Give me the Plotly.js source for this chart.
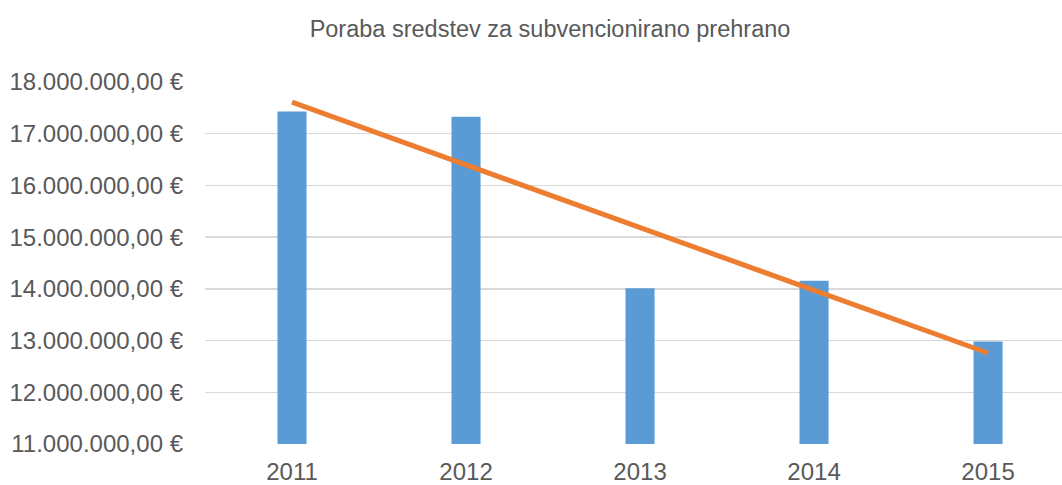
<!DOCTYPE html>
<html>
<head>
<meta charset="utf-8">
<script src="https://cdn.plot.ly/plotly-3.0.1.min.js"></script>
<style>html,body{margin:0;padding:0;background:#fff;}#chart{width:1062px;height:485px;}</style>
</head>
<body>
<div id="chart"></div>
<script>
const years = ['2011', '2012', '2013', '2014', '2015'];
const spending = [17430000, 17330000, 14010000, 14155000, 12980000];
const trendYears = ['2011', '2015'];
const trendValues = [17610000, 12760000];

const font = "'Liberation Sans', Arial, Helvetica, sans-serif";

const data = [
  {
    type: 'bar',
    x: years,
    y: spending,
    marker: {color: '#5b9bd5'},
    hoverinfo: 'x+y'
  },
  {
    type: 'scatter',
    mode: 'lines',
    x: trendYears,
    y: trendValues,
    line: {color: '#ed7d31', width: 5},
    hoverinfo: 'skip'
  }
];

const layout = {
  width: 1062,
  height: 485,
  showlegend: false,
  paper_bgcolor: '#ffffff',
  plot_bgcolor: '#ffffff',
  separators: ',.',
  margin: {l: 205, r: 0, t: 82, b: 41},
  bargap: 0.833,
  title: {
    text: 'Poraba sredstev za subvencionirano prehrano',
    font: {family: font, size: 23.5, color: '#595959'},
    x: 550 / 1062,
    xanchor: 'center',
    xref: 'container',
    y: 1,
    yref: 'container',
    yanchor: 'top',
    pad: {t: 21}
  },
  xaxis: {
    type: 'category',
    range: [-0.5, 4.425],
    showgrid: false,
    zeroline: false,
    showline: false,
    ticks: '',
    ticklabelstandoff: 11,
    tickfont: {family: font, size: 24, color: '#595959'},
    fixedrange: true
  },
  yaxis: {
    range: [11000000, 18000000],
    dtick: 1000000,
    tick0: 11000000,
    tickformat: ',.2f',
    ticksuffix: ' €',
    showgrid: true,
    gridcolor: '#d9d9d9',
    gridwidth: 1.5,
    zeroline: false,
    showline: false,
    ticks: '',
    ticklabelstandoff: 21,
    tickfont: {family: font, size: 24, color: '#595959'},
    fixedrange: true
  }
};

Plotly.newPlot('chart', data, layout, {displayModeBar: false, staticPlot: true});
</script>
</body>
</html>
